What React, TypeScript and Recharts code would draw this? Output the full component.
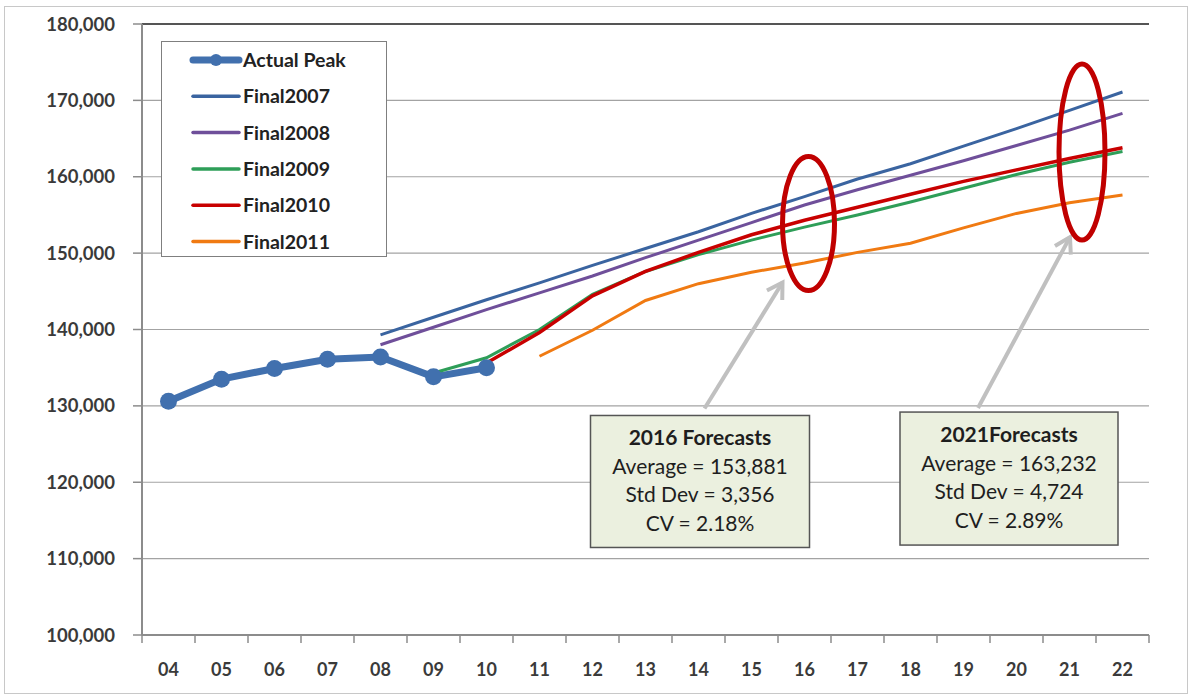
import { LineChart, Line, XAxis, YAxis, CartesianGrid, ReferenceLine, ReferenceDot, Legend } from 'recharts';

const years = ['04', '05', '06', '07', '08', '09', '10', '11', '12', '13', '14', '15', '16', '17', '18', '19', '20', '21', '22'];

// actual peak, 04-10
const actualPeak = [130600, 133500, 134900, 136100, 136400, 133800, 135000];
// forecasts, each starting at its own year
const final2007 = [139300, 141600, 143900, 146100, 148400, 150600, 152800, 155200, 157400, 159700, 161700, 164000, 166300, 168700, 171100];
const final2008 = [138000, 140300, 142600, 144800, 147000, 149400, 151700, 154000, 156300, 158300, 160200, 162100, 164100, 166100, 168300];
const final2009 = [134300, 136300, 140000, 144600, 147600, 149800, 151700, 153400, 155000, 156700, 158500, 160300, 161900, 163300];
const final2010 = [135600, 139600, 144400, 147600, 150100, 152400, 154300, 156000, 157700, 159400, 160900, 162400, 163800];
const final2011 = [136500, 139900, 143800, 146000, 147500, 148700, 150100, 151300, 153300, 155200, 156600, 157600];

const yTicks = [100000, 110000, 120000, 130000, 140000, 150000, 160000, 170000, 180000];

const series = [
  { key: 'actual', name: 'Actual Peak', start: '04', values: actualPeak, color: '#4170ae', width: 7 },
  { key: 'f2007', name: 'Final2007', start: '08', values: final2007, color: '#3a64a0', width: 3 },
  { key: 'f2008', name: 'Final2008', start: '08', values: final2008, color: '#6f4f9a', width: 3 },
  { key: 'f2009', name: 'Final2009', start: '09', values: final2009, color: '#2e9e58', width: 3 },
  { key: 'f2010', name: 'Final2010', start: '10', values: final2010, color: '#c80000', width: 3.5 },
  { key: 'f2011', name: 'Final2011', start: '11', values: final2011, color: '#f07a12', width: 3 },
];

const callouts = [
  {
    year: '16', center: 153881, dx: 4, rx: 26, ry: 67,
    from: [-104, 185], to: [-26, 59], box: [-218, 192, 219, 132],
    lines: ['2016 Forecasts', 'Average = 153,881', 'Std Dev = 3,356', 'CV = 2.18%'],
  },
  {
    year: '21', center: 163232, dx: 12.5, rx: 23, ry: 88,
    from: [-104, 256], to: [-12, 85], box: [-182, 260, 218, 133],
    lines: ['2021Forecasts', 'Average = 163,232', 'Std Dev = 4,724', 'CV = 2.89%'],
  },
];

const data = years.map((year, i) => {
  const row: Record<string, string | number | undefined> = { year };
  series.forEach((s) => {
    const j = i - years.indexOf(s.start);
    row[s.key] = j >= 0 && j < s.values.length ? s.values[j] : undefined;
  });
  return row;
});

const FONT = 'Lato, "Open Sans", sans-serif';
const half = 26.5; // half a category width

const XTick = (props: any) => {
  const { x, y, payload, index } = props;
  return (
    <g>
      <line x1={x - half} y1={y} x2={x - half} y2={y + 8} stroke="#8c8c8c" strokeWidth={1.5} />
      {index === years.length - 1 && (
        <line x1={x + half} y1={y} x2={x + half} y2={y + 8} stroke="#8c8c8c" strokeWidth={1.5} />
      )}
      <text x={x} y={y + 41} textAnchor="middle" fontFamily={FONT} fontWeight={700} fontSize={18} fill="#3a3a3a">
        {payload.value}
      </text>
    </g>
  );
};

const makeCallout = (c: (typeof callouts)[number]) => (props: any) => {
  const ox = props.cx + c.dx;
  const cy = props.cy;
  const x1 = ox + c.from[0], y1 = cy + c.from[1];
  const x2 = ox + c.to[0], y2 = cy + c.to[1];
  const ang = Math.atan2(y2 - y1, x2 - x1);
  const hl = 15, hw = 9;
  const bx = x2 - hl * Math.cos(ang), by = y2 - hl * Math.sin(ang);
  const px = -Math.sin(ang) * hw, py = Math.cos(ang) * hw;
  const [bxo, byo, bw, bh] = c.box;
  const left = ox + bxo, top = cy + byo;
  return (
    <g>
      <line x1={x1} y1={y1} x2={x2} y2={y2} stroke="#c0c0c0" strokeWidth={4} />
      <polyline points={`${bx + px},${by + py} ${x2},${y2} ${bx - px},${by - py}`} fill="none" stroke="#c0c0c0" strokeWidth={4} />
      <ellipse cx={ox} cy={cy} rx={c.rx} ry={c.ry} fill="none" stroke="#c00000" strokeWidth={5} />
      <rect x={left} y={top} width={bw} height={bh} fill="#ebf0df" stroke="#555" strokeWidth={1.5} />
      {c.lines.map((t, i) => (
        <text key={t} x={left + bw / 2} y={top + 30 + i * 28.5} textAnchor="middle" fontFamily={FONT}
          fontSize={21} fontWeight={i === 0 ? 700 : 400} fill="#1e1e1e">
          {t}
        </text>
      ))}
    </g>
  );
};

const LegendBox = () => (
  <div style={{ width: 226, height: 216, border: '1.5px solid #7f7f7f', background: '#fff', boxSizing: 'border-box' }}>
    <svg width={224} height={214}>
      {series.map((s, i) => {
        const y = 18 + i * 36.3;
        return (
          <g key={s.key}>
            <line x1={31} y1={y} x2={77} y2={y} stroke={s.color} strokeWidth={s.key === 'actual' ? 7 : 3.5} strokeLinecap="round" />
            {s.key === 'actual' && <circle cx={54} cy={y} r={6} fill={s.color} />}
            <text x={81} y={y + 7} fontFamily={FONT} fontWeight={700} fontSize={19.5} fill="#222">{s.name}</text>
          </g>
        );
      })}
    </svg>
  </div>
);

export default function App() {
  return (
    <div style={{ position: 'absolute', left: 0, top: 0, width: 1190, height: 696, background: '#fff' }}>
      <div style={{ position: 'absolute', left: 4, top: 6, width: 1182, height: 686, border: '1px solid #c8c8c8' }} />
      <LineChart width={1190} height={696} data={data} margin={{ top: 24, right: 41, bottom: 21, left: 0 }}>
        <CartesianGrid vertical={false} stroke="#a3a3a3" strokeWidth={1.2} />
        <XAxis dataKey="year" interval={0} padding={{ left: half, right: half }} height={40}
          tickSize={0} tickMargin={0} axisLine={{ stroke: '#8c8c8c', strokeWidth: 2 }} tick={<XTick />} />
        <YAxis domain={[100000, 180000]} ticks={yTicks} width={142} tickSize={9} tickMargin={18}
          tickFormatter={(v: number) => v.toLocaleString('en-US')}
          axisLine={{ stroke: '#8c8c8c', strokeWidth: 2 }} tickLine={{ stroke: '#8c8c8c', strokeWidth: 1.5 }}
          tick={{ fontFamily: FONT, fontWeight: 700, fontSize: 18.5, fill: '#3a3a3a' }} />
        <YAxis yAxisId="frame" orientation="right" width={0} domain={[100000, 180000]} tick={false} tickLine={false}
          axisLine={{ stroke: '#555', strokeWidth: 2 }} />
        <ReferenceLine y={180000} stroke="#555" strokeWidth={2} />
        {series.map((s) => (
          <Line key={s.key} dataKey={s.key} name={s.name} type="linear" stroke={s.color} strokeWidth={s.width}
            dot={s.key === 'actual' ? { r: 8.5, fill: s.color, stroke: s.color, strokeWidth: 0 } : false}
            activeDot={false} isAnimationActive={false} />
        ))}
        {callouts.map((c) => (
          <ReferenceDot key={c.year} x={c.year} y={c.center} r={0} shape={makeCallout(c)} />
        ))}
        <Legend layout="vertical" align="center" verticalAlign="middle" content={() => <LegendBox />}
          wrapperStyle={{ left: 161, top: 41, width: 226, height: 216 }} />
      </LineChart>
    </div>
  );
}
